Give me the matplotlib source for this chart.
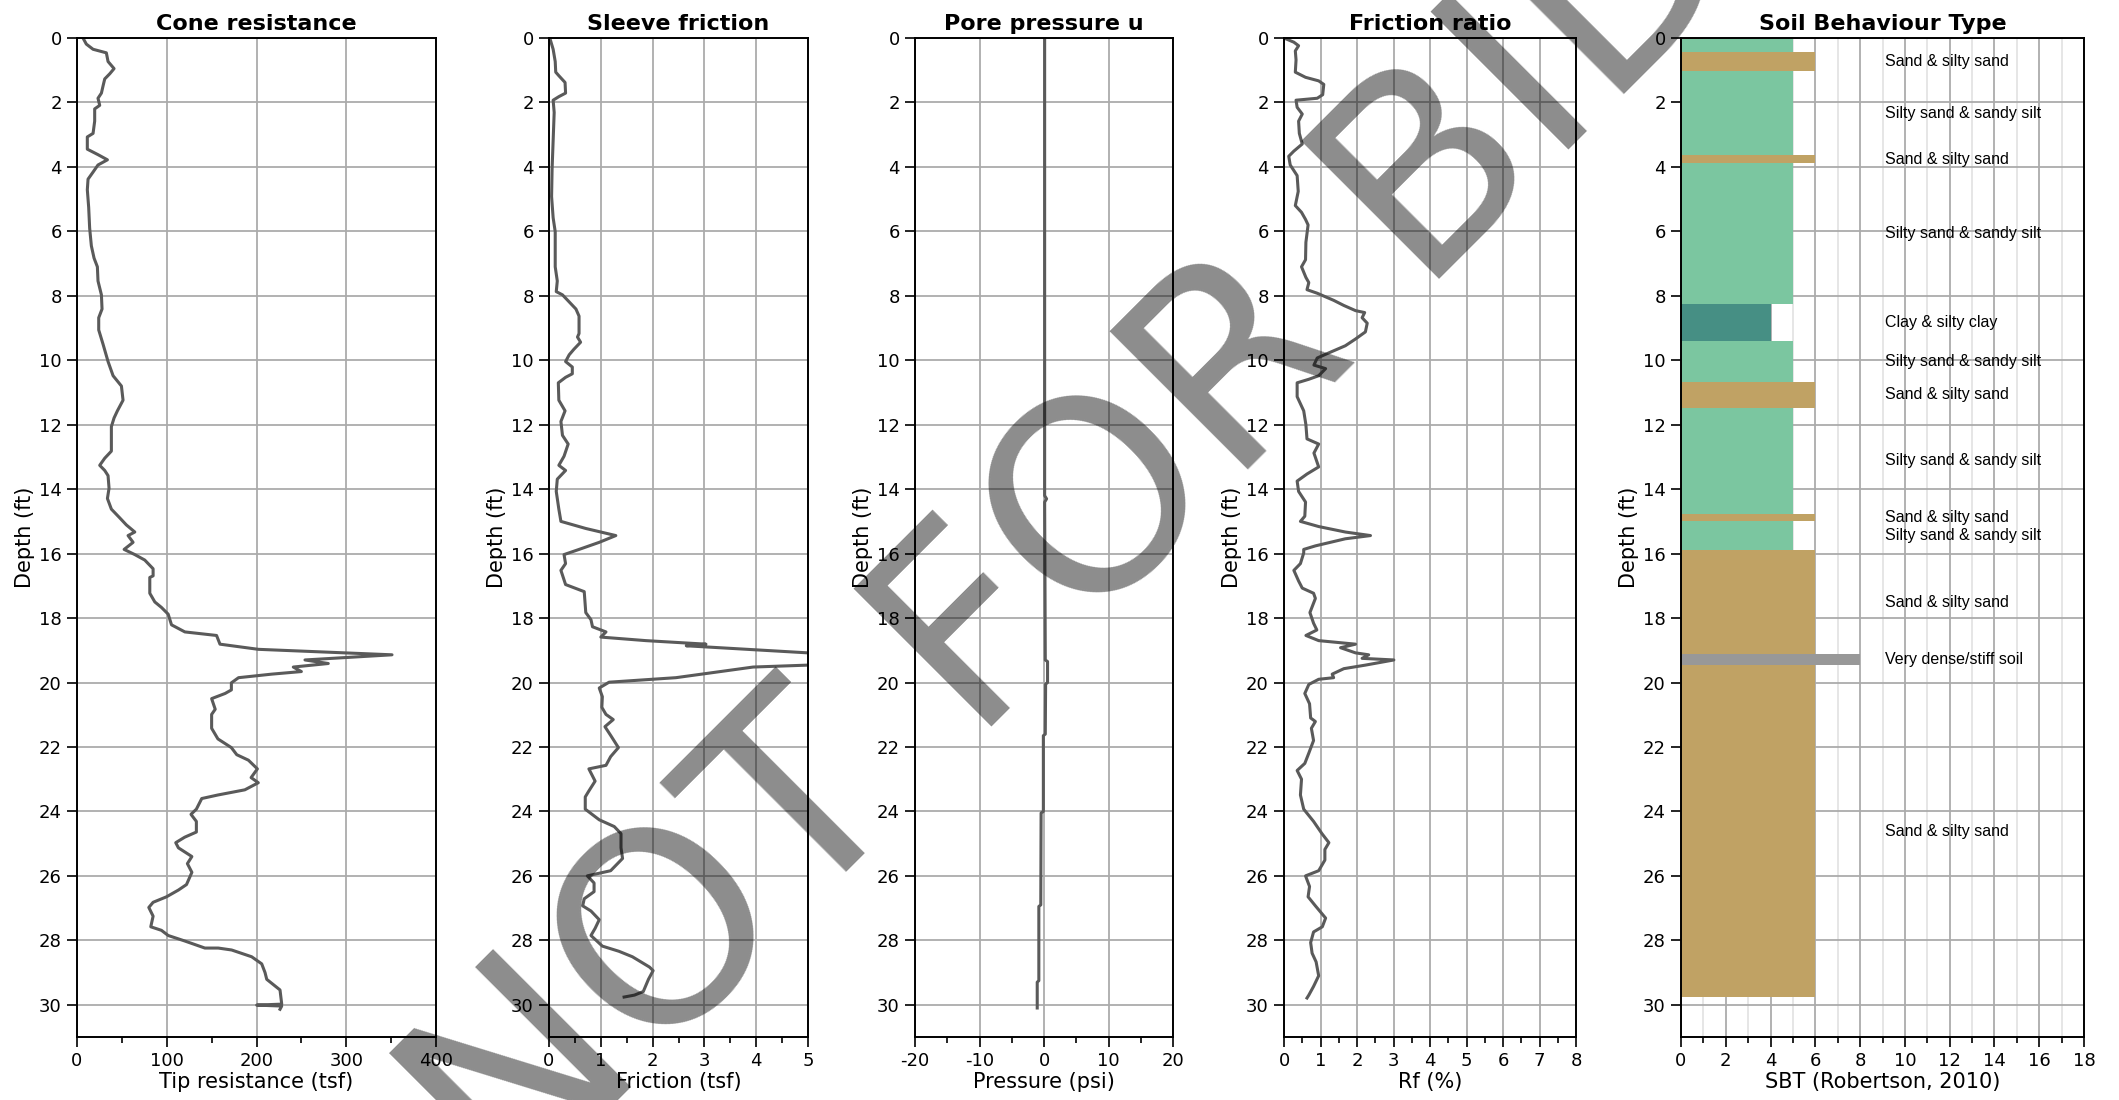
import numpy as np
import matplotlib.pyplot as plt
from matplotlib.ticker import MultipleLocator

plt.rcParams['axes.unicode_minus'] = False

# Cone tip resistance qc (tsf) against depth (ft)
qc_depth = [0.0, 0.19, 0.35, 0.46, 0.73, 0.95, 1.11, 1.27, 1.49, 1.71, 1.87, 2.09, 2.2, 2.58,
            2.96, 3.07, 3.45, 3.62, 3.78, 3.94, 4.16, 4.38, 4.71, 5.25, 5.9, 6.45, 6.83, 7.1,
            7.54, 7.97, 8.41, 8.68, 9.06, 9.5, 10.04, 10.48, 10.8, 11.24, 11.57, 11.79, 12.06,
            12.44, 12.82, 13.04, 13.26, 13.42, 13.58, 13.97, 14.29, 14.62, 14.89, 15.11, 15.33,
            15.44, 15.65, 15.87, 16.03, 16.2, 16.47, 16.69, 16.74, 17.23, 17.5, 17.67, 17.88,
            18.21, 18.43, 18.54, 18.81, 18.97, 19.14, 19.3, 19.41, 19.52, 19.66, 19.74, 19.85,
            20.01, 20.23, 20.34, 20.5, 20.83, 20.99, 21.42, 21.75, 22.02, 22.24, 22.41, 22.68,
            22.95, 23.11, 23.33, 23.49, 23.6, 23.93, 24.09, 24.31, 24.64, 24.8, 24.97, 25.13,
            25.4, 25.62, 25.89, 26.27, 26.44, 26.65, 26.82, 26.98, 27.25, 27.58, 27.69, 27.85,
            28.02, 28.24, 28.24, 28.3, 28.51, 28.73, 29.0, 29.21, 29.54, 29.98, 30.01, 30.04,
            30.14]
qc = [6.7, 10.4, 17.9, 32.7, 34.6, 41.3, 36.5, 30.9, 29.0, 27.2, 23.4, 25.3, 19.7, 19.7,
      17.9, 11.5, 11.5, 23.4, 33.9, 23.4, 17.9, 12.3, 11.5, 13.0, 14.1, 16.0, 19.0, 22.7,
      23.4, 27.2, 27.9, 24.2, 24.2, 29.0, 34.6, 40.2, 49.5, 51.3, 45.0, 41.3, 38.3,
      38.3, 38.3, 30.9, 25.3, 30.9, 34.6, 35.7, 33.9, 38.3, 47.6, 55.0, 64.4,
      56.9, 62.5, 52.5, 64.4, 75.5, 84.8, 84.8, 81.1, 81.1, 86.7, 94.1, 101.6,
      105.3, 120.2, 155.5, 159.3, 202.0, 351.0, 254.0, 280.0, 241.0, 250.0, 217.0, 180.0,
      172.0, 172.0, 165.0, 150.0, 154.0, 150.0, 150.0, 157.0, 172.0, 178.0, 191.0, 201.0,
      194.0, 202.0, 187.0, 157.0, 139.0, 133.0, 127.0, 133.0, 133.0, 120.0, 110.0, 113.0,
      128.0, 123.0, 128.0, 122.0, 113.0, 99.7, 84.8, 80.0, 84.8, 82.2, 94.1, 101.6,
      120.0, 142.5, 157.4, 172.3, 194.6, 205.8, 209.5, 211.4, 226.2, 228.1, 200.2, 228.1,
      226.2]

# Sleeve friction fs (tsf)
fs_depth = [0.08, 0.35, 0.73, 1.06, 1.17, 1.38, 1.71, 1.82, 1.93, 2.31, 3.18, 4.05, 4.92,
            5.58, 6.01, 7.1, 7.54, 7.87, 7.97, 8.19, 8.41, 8.63, 9.17, 9.28, 9.44, 9.66, 9.83,
            10.04, 10.21, 10.42, 10.53, 10.7, 11.24, 11.57, 11.9, 12.33, 12.6, 12.98, 13.26,
            13.42, 13.69, 14.07, 14.62, 15.0, 15.22, 15.44, 15.65, 15.87, 16.03, 16.31, 16.52,
            16.96, 17.18, 17.83, 18.05, 18.27, 18.43, 18.59, 18.7, 18.81, 18.86, 19.08, 19.2,
            19.38, 19.46, 19.52, 19.85, 19.99, 20.17, 20.44, 20.77, 20.99, 21.15, 21.37, 21.64,
            22.02, 22.3, 22.57, 22.68, 23.06, 23.39, 23.55, 23.93, 24.26, 24.47, 24.69, 25.13,
            25.46, 25.84, 26.0, 26.22, 26.49, 26.71, 26.93, 27.09, 27.36, 27.63, 27.85, 28.18,
            28.34, 28.51, 28.83, 28.94, 29.21, 29.59, 29.7, 29.76]
fs = [0.03, 0.08, 0.12, 0.13, 0.19, 0.31, 0.32, 0.19, 0.08, 0.1, 0.08, 0.06, 0.05,
      0.08, 0.12, 0.12, 0.16, 0.14, 0.26, 0.39, 0.52, 0.58, 0.58, 0.55, 0.61, 0.48, 0.39,
      0.32, 0.45, 0.45, 0.32, 0.18, 0.19, 0.31, 0.23, 0.26, 0.37, 0.29, 0.19,
      0.32, 0.16, 0.14, 0.19, 0.23, 0.71, 1.29, 0.97, 0.58, 0.29, 0.32, 0.23,
      0.32, 0.68, 0.71, 0.81, 0.84, 1.1, 1.0, 1.87, 3.03, 2.65, 5.0, 6.8,
      6.4, 5.0, 3.94, 2.45, 1.16, 0.97, 1.03, 1.02, 1.1, 1.24, 1.08, 1.19,
      1.34, 1.19, 1.1, 0.77, 0.89, 0.76, 0.7, 0.7, 0.97, 1.26, 1.39, 1.39,
      1.42, 1.19, 0.74, 0.87, 0.87, 0.68, 0.65, 0.81, 0.97, 0.89, 0.81, 1.03,
      1.35, 1.61, 1.94, 2.01, 1.92, 1.82, 1.65, 1.45]

# Pore pressure u (psi)
u_depth = [0.0, 14.2, 14.3, 14.4, 19.3, 19.35, 20.0, 20.05, 21.6, 21.65, 24.0, 24.05,
           26.9, 26.95, 29.25, 29.3, 30.1]
u = [0.1, 0.1, 0.4, 0.1, 0.2, 0.55, 0.55, 0.25, 0.2, -0.1, -0.1, -0.45,
     -0.5, -0.8, -0.8, -1.05, -1.05]

# Friction ratio Rf (%)
rf_depth = [0.02, 0.13, 0.24, 0.4, 0.68, 1.06, 1.22, 1.33, 1.44, 1.76, 1.87, 1.93, 2.15,
            2.36, 2.58, 2.96, 3.29, 3.51, 3.67, 3.94, 4.27, 4.76, 5.2, 5.41, 5.63, 5.8, 6.34,
            6.88, 7.1, 7.43, 7.59, 7.81, 7.92, 8.14, 8.3, 8.46, 8.52, 8.68, 8.85, 9.12, 9.34,
            9.55, 9.77, 9.93, 10.15, 10.26, 10.48, 10.59, 10.7, 11.13, 11.57, 12.0, 12.44,
            12.6, 12.88, 13.31, 13.53, 13.75, 14.07, 14.4, 14.84, 15.0, 15.16, 15.33, 15.44,
            15.54, 15.76, 15.87, 15.98, 16.31, 16.52, 16.85, 17.07, 17.23, 17.39, 17.83, 18.16,
            18.37, 18.54, 18.7, 18.81, 18.92, 19.08, 19.14, 19.25, 19.3, 19.46, 19.57, 19.74,
            19.85, 19.9, 20.06, 20.34, 20.66, 21.1, 21.21, 21.42, 21.8, 22.19, 22.51, 22.73,
            23.0, 23.49, 23.93, 24.31, 24.69, 24.97, 25.18, 25.51, 25.84, 26.0, 26.33, 26.65,
            26.93, 27.31, 27.58, 27.74, 28.07, 28.4, 28.67, 29.1, 29.43, 29.7, 29.79]
rf = [0.04, 0.27, 0.4, 0.31, 0.33, 0.31, 0.59, 0.95, 1.09, 1.06, 0.91, 0.33, 0.36,
      0.5, 0.4, 0.42, 0.5, 0.27, 0.13, 0.17, 0.36, 0.39, 0.31, 0.48, 0.59, 0.66, 0.6,
      0.59, 0.48, 0.6, 0.68, 0.63, 0.91, 1.36, 1.64, 1.96, 2.21, 2.14, 2.28, 2.23, 1.96,
      1.68, 1.23, 0.91, 0.82, 1.14, 0.95, 0.68, 0.36, 0.36, 0.54, 0.6, 0.63,
      0.95, 0.82, 0.95, 0.63, 0.36, 0.4, 0.59, 0.57, 0.45, 0.95, 1.68, 2.37,
      1.68, 0.86, 0.54, 0.54, 0.45, 0.27, 0.4, 0.5, 0.81, 0.86, 0.71, 0.81,
      0.9, 0.6, 0.95, 1.96, 1.55, 1.96, 2.32, 2.14, 3.01, 2.23, 1.64, 1.32,
      1.36, 0.95, 0.68, 0.57, 0.7, 0.73, 0.86, 0.75, 0.81, 0.68, 0.57, 0.36,
      0.48, 0.45, 0.54, 0.81, 1.04, 1.23, 1.12, 1.12, 0.95, 0.59, 0.7, 0.66,
      0.86, 1.14, 1.05, 0.81, 0.73, 0.77, 0.88, 0.95, 0.81, 0.68, 0.63]

# Soil behaviour type layers (Robertson 2010 zones)
sbt_top = [0.0, 0.04, 0.44, 1.02, 3.64, 3.89, 8.24, 9.41, 10.66, 11.49, 14.76, 15.0, 15.9,
           19.13, 19.47]
sbt_bottom = [0.04, 0.44, 1.02, 3.64, 3.89, 8.24, 9.41, 10.66, 11.49, 14.76, 15.0, 15.9,
              19.13, 19.47, 29.77]
sbt_zone = [1, 5, 6, 5, 6, 5, 4, 5, 6, 5, 6, 5, 6, 8, 6]
sbt_label = ['', '', 'Sand & silty sand', 'Silty sand & sandy silt', 'Sand & silty sand',
             'Silty sand & sandy silt', 'Clay & silty clay', 'Silty sand & sandy silt',
             'Sand & silty sand', 'Silty sand & sandy silt', 'Sand & silty sand',
             'Silty sand & sandy silt', 'Sand & silty sand', 'Very dense/stiff soil',
             'Sand & silty sand']
zone_colors = {1: '#e2312a', 4: '#468f84', 5: '#7bc6a0', 6: '#c0a264', 8: '#989898'}

LINE = '#5a5a5a'
GRID = '#ababab'

W, H = 2119, 1100
fig = plt.figure(figsize=(W / 100, H / 100), dpi=100)
panel_px = [(77, 436), (549, 808), (915, 1173), (1284, 1576), (1681, 2084)]
y0, y1 = 1 - 1037 / H, 1 - 38 / H
axes = [fig.add_axes([l / W, y0, (r - l) / W, y1 - y0]) for l, r in panel_px]


def style(ax, title, xlabel, xlim, major, minor):
    ax.set_xlim(*xlim)
    ax.set_ylim(31, 0)
    ax.yaxis.set_major_locator(MultipleLocator(2))
    ax.xaxis.set_major_locator(MultipleLocator(major))
    ax.xaxis.set_minor_locator(MultipleLocator(minor))
    ax.set_title(title, fontsize=16, fontweight='bold', pad=6)
    ax.set_xlabel(xlabel, fontsize=15, labelpad=1)
    ax.set_ylabel('Depth (ft)', fontsize=15, labelpad=3)
    ax.tick_params(which='major', direction='out', length=7, width=1.2, labelsize=13, pad=4)
    ax.tick_params(which='minor', direction='out', length=4, width=1.2)
    ax.grid(True, which='major', color=GRID, lw=1.3)
    ax.set_axisbelow(True)
    for s in ax.spines.values():
        s.set_linewidth(1.4)


ax = axes[0]
ax.plot(qc, qc_depth, color=LINE, lw=2.2)
style(ax, 'Cone resistance', 'Tip resistance (tsf)', (0, 400), 100, 50)

ax = axes[1]
ax.plot(fs, fs_depth, color=LINE, lw=2.2)
style(ax, 'Sleeve friction', 'Friction (tsf)', (0, 5), 1, 0.5)

ax = axes[2]
ax.plot(u, u_depth, color=LINE, lw=2.2)
style(ax, 'Pore pressure u', 'Pressure (psi)', (-20, 20), 10, 5)

ax = axes[3]
ax.plot(rf, rf_depth, color=LINE, lw=2.2)
style(ax, 'Friction ratio', 'Rf (%)', (0, 8), 1, 0.5)

ax = axes[4]
style(ax, 'Soil Behaviour Type', 'SBT (Robertson, 2010)', (0, 18), 2, 1)
ax.grid(True, which='minor', axis='x', color='#e4e4e4', lw=1.3)
top = np.array(sbt_top)
bot = np.array(sbt_bottom)
ax.barh((top + bot) / 2, sbt_zone, height=bot - top, left=0,
        color=[zone_colors[z] for z in sbt_zone], zorder=2)
for t, b, name in zip(sbt_top, sbt_bottom, sbt_label):
    if name:
        ax.text(9.1, (t + b) / 2, name, fontsize=11.5, va='center', ha='left',
                family=['Liberation Sans Narrow', 'Liberation Sans'], zorder=3)

fig.text(0.624, 0.735, 'NOT FOR BIDDING', rotation=45, rotation_mode='anchor',
         ha='center', va='center', fontsize=192, color='black', alpha=0.45, zorder=100)

fig.savefig('out.png', dpi=100)
